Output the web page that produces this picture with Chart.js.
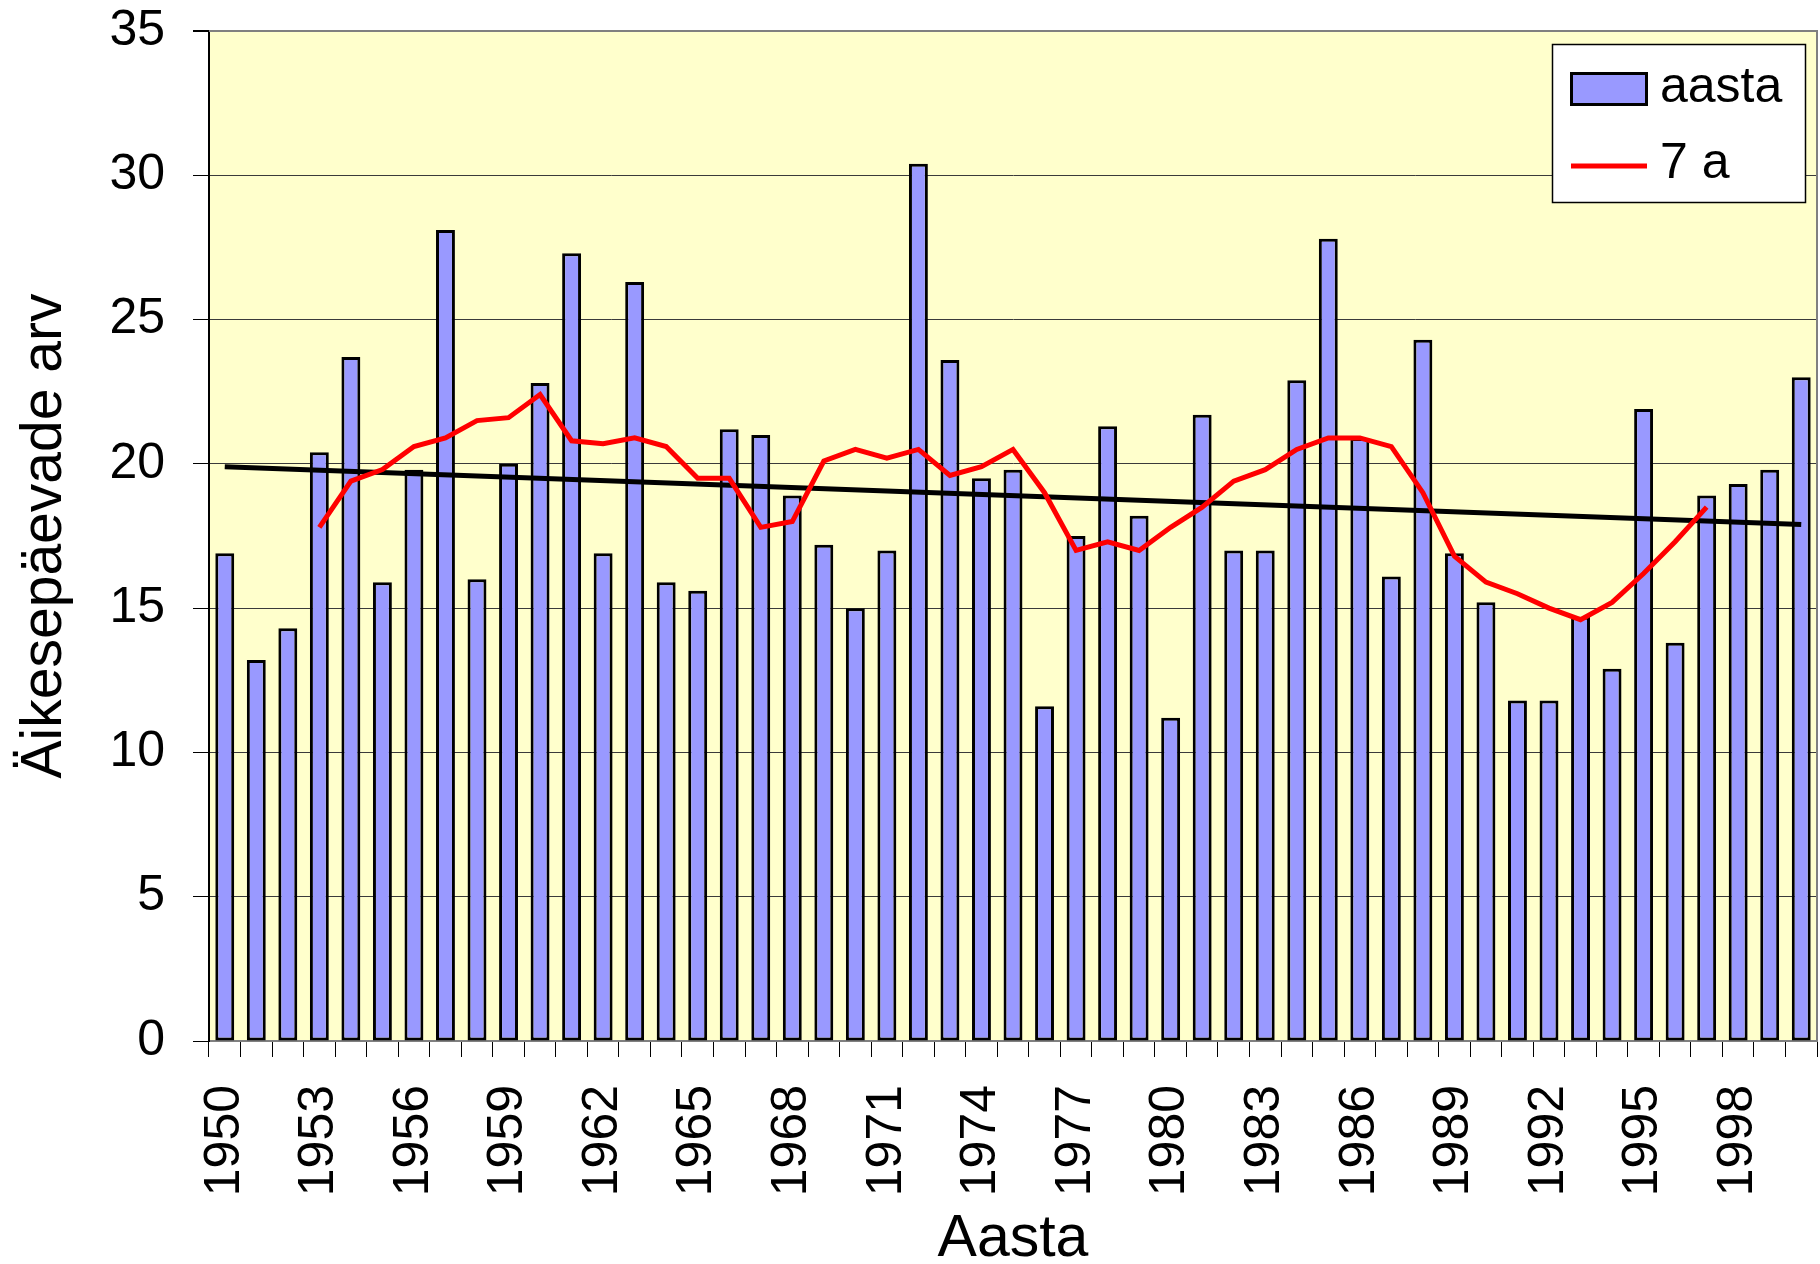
<!DOCTYPE html>
<html>
<head>
<meta charset="utf-8">
<script src="https://cdn.jsdelivr.net/npm/chart.js@4.4.1/dist/chart.umd.min.js"></script>
<style>
  html, body { margin: 0; padding: 0; background: #ffffff; }
  #wrap { width: 1820px; height: 1264px; }
</style>
</head>
<body>
<div id="wrap"><canvas id="c" width="1820" height="1264"></canvas></div>
<script>
// ---- data ----
const years = ['1950','1951','1952','1953','1954','1955','1956','1957','1958','1959',
  '1960','1961','1962','1963','1964','1965','1966','1967','1968','1969',
  '1970','1971','1972','1973','1974','1975','1976','1977','1978','1979',
  '1980','1981','1982','1983','1984','1985','1986','1987','1988','1989',
  '1990','1991','1992','1993','1994','1995','1996','1997','1998','1999','2000'];

const annualDays = [16.9, 13.2, 14.3, 20.4, 23.7, 15.9, 19.8, 28.1, 16.0, 20.0,
  22.8, 27.3, 16.9, 26.3, 15.9, 15.6, 21.2, 21.0, 18.9, 17.2,
  15.0, 17.0, 30.4, 23.6, 19.5, 19.8, 11.6, 17.5, 21.3, 18.2,
  11.2, 21.7, 17.0, 17.0, 22.9, 27.8, 20.9, 16.1, 24.3, 16.9,
  15.2, 11.8, 11.8, 14.7, 12.9, 21.9, 13.8, 18.9, 19.3, 19.8, 23.0];

const movingAvg7 = [null, null, null, 17.8, 19.4, 19.8, 20.6, 20.9, 21.5, 21.6,
  22.4, 20.8, 20.7, 20.9, 20.6, 19.5, 19.5, 17.8, 18.0, 20.1,
  20.5, 20.2, 20.5, 19.6, 19.9, 20.5, 19.0, 17.0, 17.3, 17.0,
  17.8, 18.5, 19.4, 19.8, 20.5, 20.9, 20.9, 20.6, 19.0, 16.8,
  15.9, 15.5, 15.0, 14.6, 15.2, 16.2, 17.3, 18.5, null, null, null];

const trendStart = 19.9;   // value of trend line at 1950
const trendEnd = 17.9;     // value of trend line at 2000
const trendLine = years.map((y, i) => i === 0 ? trendStart : (i === years.length - 1 ? trendEnd : null));

const yTicks = [0, 5, 10, 15, 20, 25, 30, 35];
const labelStep = 3; // every third year labelled

const seriesNames = ['aasta', '7 a'];
const axisTitleX = 'Aasta';
const axisTitleY = 'Äikesepäevade arv';

// ---- styling ----
const FONT = "'Liberation Sans', Arial, Helvetica, sans-serif";
const PLOT_BG = '#FFFFCC';
const BAR_FILL = '#9999FF';

const plotBackground = {
  id: 'plotBackground',
  beforeDraw(chart) {
    const {ctx, chartArea: a} = chart;
    ctx.save();
    ctx.fillStyle = PLOT_BG;
    ctx.fillRect(a.left, a.top, a.right - a.left, a.bottom - a.top);
    ctx.restore();
  },
  afterDatasetsDraw(chart) {
    const {ctx, chartArea: a} = chart;
    ctx.save();
    ctx.strokeStyle = '#808080';
    ctx.lineWidth = 2;
    ctx.beginPath();
    ctx.moveTo(a.left, a.top);
    ctx.lineTo(a.right, a.top);
    ctx.lineTo(a.right, a.bottom);
    ctx.stroke();
    ctx.restore();
  }
};

const boxLegend = {
  id: 'boxLegend',
  afterDraw(chart) {
    const {ctx} = chart;
    const ds = chart.data.datasets;
    const barDs = ds.find(d => d.label === seriesNames[0]);
    const lineDs = ds.find(d => d.label === seriesNames[1]);
    const bx = 1552, by = 44, bw = 253, bh = 158;
    ctx.save();
    ctx.fillStyle = '#ffffff';
    ctx.fillRect(bx, by, bw, bh);
    ctx.strokeStyle = '#000000';
    ctx.lineWidth = 1.5;
    ctx.strokeRect(bx + 0.5, by + 0.5, bw, bh);
    // bar swatch
    ctx.fillStyle = barDs.backgroundColor;
    ctx.fillRect(1570, 72, 78, 34);
    ctx.strokeStyle = barDs.borderColor;
    ctx.lineWidth = 3;
    ctx.strokeRect(1571.5, 73.5, 75, 31);
    // line swatch
    ctx.strokeStyle = lineDs.borderColor;
    ctx.lineWidth = 5;
    ctx.beginPath();
    ctx.moveTo(1571, 166);
    ctx.lineTo(1647, 166);
    ctx.stroke();
    ctx.fillStyle = '#000000';
    ctx.font = '50px ' + FONT;
    ctx.textBaseline = 'alphabetic';
    ctx.textAlign = 'left';
    ctx.fillText(barDs.label, 1660, 102);
    ctx.fillText(lineDs.label, 1660, 178);
    ctx.restore();
  }
};

const ctx = document.getElementById('c').getContext('2d');
new Chart(ctx, {
  data: {
    labels: years,
    datasets: [
      {
        type: 'line',
        label: seriesNames[1],
        data: movingAvg7,
        borderColor: '#FF0000',
        borderWidth: 5,
        pointRadius: 0,
        tension: 0,
        fill: false,
        order: 1
      },
      {
        type: 'line',
        label: 'trend',
        data: trendLine,
        borderColor: '#000000',
        borderWidth: 5,
        pointRadius: 0,
        spanGaps: true,
        tension: 0,
        fill: false,
        order: 2
      },
      {
        type: 'bar',
        label: seriesNames[0],
        data: annualDays,
        backgroundColor: BAR_FILL,
        borderColor: '#000000',
        borderWidth: 3,
        borderSkipped: false,
        categoryPercentage: 1.0,
        barPercentage: 0.6,
        order: 3
      }
    ]
  },
  options: {
    responsive: false,
    devicePixelRatio: 1,
    animation: false,
    layout: { padding: { top: 31, right: 3, left: 0, bottom: 0 } },
    plugins: {
      legend: { display: false },
      tooltip: { enabled: false }
    },
    scales: {
      x: {
        type: 'category',
        offset: true,
        afterFit(scale) {
          scale.height = 223;
          scale.paddingLeft = 0; scale.paddingRight = 0;
          scale.paddingTop = 0; scale.paddingBottom = 0;
        },
        grid: {
          offset: true,
          drawOnChartArea: false,
          drawTicks: true,
          tickLength: 16,
          tickColor: '#000000',
          tickWidth: 1
        },
        border: { display: true, color: '#808080', width: 2 },
        ticks: {
          autoSkip: false,
          minRotation: 90,
          maxRotation: 90,
          padding: 28,
          color: '#000000',
          font: { family: FONT, size: 50 },
          callback(value, index) { return index % labelStep === 0 ? years[index] : ''; }
        },
        title: {
          display: true,
          text: axisTitleX,
          color: '#000000',
          font: { family: FONT, size: 59, lineHeight: 0.8 },
          padding: { top: 0, bottom: 1 }
        }
      },
      y: {
        type: 'linear',
        min: 0,
        max: 35,
        afterFit(scale) {
          scale.width = 209;
          scale.paddingLeft = 0; scale.paddingRight = 0;
          scale.paddingTop = 0; scale.paddingBottom = 0;
        },
        afterBuildTicks(scale) { scale.ticks = yTicks.map(v => ({ value: v })); },
        grid: {
          drawTicks: true,
          tickLength: 16,
          tickColor: '#000000',
          color(c) { return (c.tick && (c.tick.value === 35 || c.tick.value === 0)) ? '#808080' : '#3a3a3a'; },
          lineWidth(c) { return (c.tick && c.tick.value === 35) ? 2 : 1; }
        },
        border: { display: true, color: '#000000', width: 2 },
        ticks: {
          padding: 28,
          color: '#000000',
          font: { family: FONT, size: 50 }
        },
        title: {
          display: true,
          text: axisTitleY,
          color: '#000000',
          font: { family: FONT, size: 57 },
          padding: { top: 11, bottom: 0 }
        }
      }
    }
  },
  plugins: [plotBackground, boxLegend]
});
</script>
</body>
</html>
